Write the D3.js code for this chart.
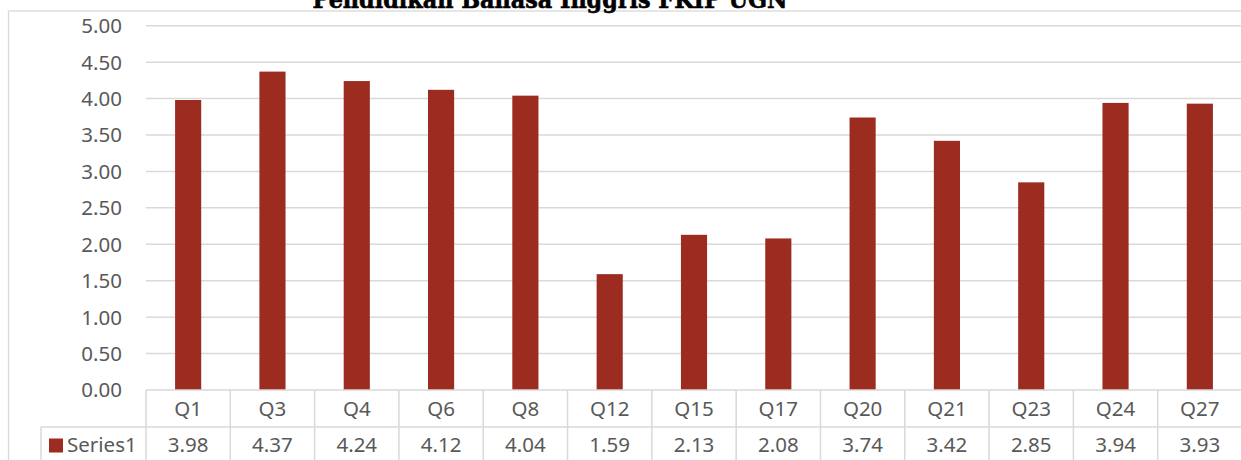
<!DOCTYPE html>
<html>
<head>
<meta charset="utf-8">
<script src="https://cdn.jsdelivr.net/npm/d3@7"></script>
<style>
  html, body { margin: 0; padding: 0; background: #fff; }
  svg { display: block; }
</style>
</head>
<body>
<div id="chart"></div>
<script>
// chart data
var title = "Pendidikan Bahasa Inggris FKIP UGN";
var categories = ["Q1", "Q3", "Q4", "Q6", "Q8", "Q12", "Q15", "Q17", "Q20", "Q21", "Q23", "Q24", "Q27"];
var seriesName = "Series1";
var series1 = [3.98, 4.37, 4.24, 4.12, 4.04, 1.59, 2.13, 2.08, 3.74, 3.42, 2.85, 3.94, 3.93];
var yTicks = [0, 0.5, 1, 1.5, 2, 2.5, 3, 3.5, 4, 4.5, 5];

var W = 1241, H = 460;
var barColor = "#9c2b20";
var gridColor = "#d9d9d9";
var textColor = "#595959";
var font = "'Noto Sans', 'Open Sans', sans-serif";

var plotLeft = 146, plotRight = 1242, plotTop = 25.7, plotBottom = 390;
var row1 = 427; // line between category row and value row

var svg = d3.select("#chart").append("svg")
    .attr("width", W)
    .attr("height", H);

var x = d3.scaleBand()
    .domain(categories)
    .range([plotLeft, plotRight])
    .paddingInner(0.69)
    .paddingOuter(0.345);

var col = d3.scaleBand()
    .domain(categories)
    .range([plotLeft, plotRight])
    .padding(0);

var y = d3.scaleLinear()
    .domain([0, 5])
    .range([plotBottom, plotTop]);

// outer chart border
svg.append("rect")
    .attr("x", 8.5).attr("y", 11)
    .attr("width", W + 20).attr("height", H + 20)
    .attr("fill", "none")
    .attr("stroke", gridColor)
    .attr("stroke-width", 1.3);

// title (clipped at the top, as in the source)
svg.append("text")
    .attr("x", 550).attr("y", 7.5)
    .attr("text-anchor", "middle")
    .attr("font-family", "'DejaVu Serif', serif")
    .attr("font-weight", "bold")
    .attr("font-size", 24)
    .attr("stroke", "#000")
    .attr("stroke-width", 0.6)
    .attr("textLength", 475)
    .attr("lengthAdjust", "spacingAndGlyphs")
    .attr("fill", "#000")
    .text(title);

// gridlines
svg.append("g").selectAll("line")
    .data(yTicks.slice(1))
    .join("line")
    .attr("x1", plotLeft).attr("x2", plotRight)
    .attr("y1", d => y(d)).attr("y2", d => y(d))
    .attr("stroke", gridColor)
    .attr("stroke-width", 1.5);

// y axis labels
svg.append("g").selectAll("text")
    .data(yTicks)
    .join("text")
    .attr("x", 122)
    .attr("y", d => y(d))
    .attr("dy", "0.36em")
    .attr("text-anchor", "end")
    .attr("font-family", font)
    .attr("font-size", 20.5)
    .attr("fill", textColor)
    .text(d => d3.format(".2f")(d));

// bars
svg.append("g").selectAll("rect")
    .data(series1)
    .join("rect")
    .attr("x", (d, i) => x(categories[i]))
    .attr("width", x.bandwidth())
    .attr("y", d => y(d))
    .attr("height", d => y(0) - y(d))
    .attr("fill", barColor);

// data table lines
var table = svg.append("g")
    .attr("stroke", gridColor)
    .attr("stroke-width", 1.5);

table.append("line")
    .attr("x1", plotLeft).attr("x2", plotRight)
    .attr("y1", plotBottom).attr("y2", plotBottom);
table.append("line")
    .attr("x1", 41).attr("x2", plotRight)
    .attr("y1", row1).attr("y2", row1);
table.append("line")
    .attr("x1", 41).attr("x2", 41)
    .attr("y1", row1).attr("y2", H + 5);
table.selectAll(".vl")
    .data(categories)
    .join("line")
    .attr("class", "vl")
    .attr("x1", d => col(d)).attr("x2", d => col(d))
    .attr("y1", plotBottom).attr("y2", H + 5);

// category labels
svg.append("g").selectAll("text")
    .data(categories)
    .join("text")
    .attr("x", d => col(d) + col.bandwidth() / 2)
    .attr("y", 416)
    .attr("text-anchor", "middle")
    .attr("font-family", font)
    .attr("font-size", 20.5)
    .attr("fill", textColor)
    .text(d => d);

// value labels
svg.append("g").selectAll("text")
    .data(series1)
    .join("text")
    .attr("x", (d, i) => col(categories[i]) + col.bandwidth() / 2)
    .attr("y", 452)
    .attr("text-anchor", "middle")
    .attr("font-family", font)
    .attr("font-size", 20.5)
    .attr("fill", textColor)
    .text(d => d3.format(".2f")(d));

// legend key + series name
svg.append("rect")
    .attr("x", 49).attr("y", 438.5)
    .attr("width", 14).attr("height", 14)
    .attr("fill", barColor);
svg.append("text")
    .attr("x", 67).attr("y", 452)
    .attr("font-family", font)
    .attr("font-size", 20.5)
    .attr("fill", textColor)
    .text(seriesName);
</script>
</body>
</html>
